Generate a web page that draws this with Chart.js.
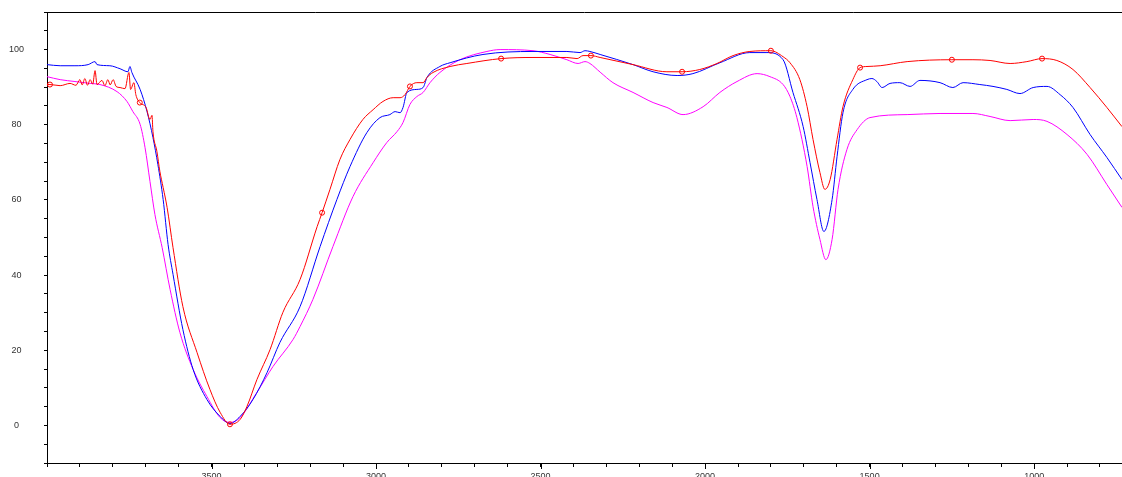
<!DOCTYPE html>
<html>
<head>
<meta charset="utf-8">
<script src="https://cdn.jsdelivr.net/npm/chart.js@4/dist/chart.umd.min.js"></script>
<style>
  html, body { margin: 0; padding: 0; background: #fff; overflow: hidden; }
  #wrap { width: 1122px; height: 484px; }
</style>
</head>
<body>
<div id="wrap"><canvas id="ir" width="1122" height="484"></canvas></div>
<script>
// IR transmittance spectra: wavenumber (cm-1) and %T for three samples
const redWavenumber = [4000,3991,3960,3930,3912,3900,3893,3885,3877,3869,3861,3854,3848,3833,3824,3815,3808,3799,3790,3778,3763,3751,3746,3736,3730,3718,3699,3687,3681,3678,3666,3657,3647,3635,3617,3587,3544,3505,3474,3444,3413,3392,3362,3322,3283,3231,3179,3164,3140,3110,3079,3040,3009,2979,2948,2927,2912,2897,2876,2857,2845,2827,2775,2724,2620,2523,2420,2389,2371,2347,2319,2219,2116,2070,2016,1964,1915,1864,1800,1763,1742,1712,1690,1672,1651,1636,1620,1599,1581,1551,1529,1508,1468,1386,1250,1186,1134,1073,1022,976,931,882,830,779,733];
const redTransmittance = [90.7,90.7,90.4,91.0,90.5,92.0,90.6,92.3,90.5,92.0,90.8,94.4,90.7,91.8,90.4,92.0,90.6,92.0,90.2,89.9,89.6,93.9,89.4,91.2,88.0,85.9,84.6,81.4,82.5,78.2,72.9,67.6,63.3,58.0,47.3,31.6,19.4,9.6,3.5,0.3,1.6,5.1,12.2,20.2,30.1,38.8,52.9,56.6,62.8,70.7,76.1,81.4,84.0,86.2,87.2,87.2,88.0,90.2,91.2,91.2,92.6,93.9,95.5,96.3,97.6,97.9,97.9,97.6,98.4,98.4,97.9,96.0,94.1,94.1,94.7,96.3,98.4,99.5,99.7,98.1,96.5,92.0,84.8,76.1,67.3,62.8,65.4,76.1,84.8,92.0,95.2,95.5,95.7,96.8,97.3,97.3,97.1,96.3,96.8,97.6,97.1,94.7,89.9,84.6,79.5];
// wavenumbers where the red trace carries a circle symbol
const redMarkerWavenumbers = [3991,3718,3444,3164,2897,2620,2347,2070,1800,1529,1250,976];

const blueWavenumber = [4000,3960,3915,3875,3854,3848,3809,3778,3754,3748,3742,3717,3696,3678,3663,3647,3632,3617,3587,3556,3514,3474,3444,3413,3374,3331,3292,3231,3170,3119,3079,3028,2988,2958,2942,2927,2918,2906,2876,2857,2845,2806,2775,2675,2523,2420,2380,2365,2350,2319,2219,2158,2085,2037,1955,1864,1812,1763,1733,1702,1681,1660,1639,1614,1599,1581,1551,1508,1493,1478,1462,1438,1408,1377,1347,1286,1247,1216,1165,1125,1083,1043,1003,961,921,882,830,779,733];
const blueTransmittance = [96.0,95.7,95.7,96.0,96.8,96.0,95.7,94.9,94.1,95.5,93.9,89.4,83.5,76.6,69.4,60.1,48.1,40.2,25.5,14.9,6.9,2.4,0.5,2.4,6.9,14.1,22.1,31.6,47.6,60.1,68.9,77.9,81.9,82.7,83.5,83.2,84.6,88.6,89.4,89.9,92.6,95.5,96.5,98.7,99.5,99.5,99.2,99.7,99.5,98.7,96.0,94.1,93.1,93.6,96.5,99.2,99.2,97.3,88.6,79.5,69.9,60.1,51.6,60.1,71.5,83.2,89.4,92.0,92.3,91.5,89.9,91.0,91.2,90.2,91.8,91.2,89.9,91.2,90.7,90.2,89.4,88.3,89.9,90.2,88.0,84.6,77.4,71.3,65.4];

const magentaWavenumber = [4000,3960,3915,3869,3839,3787,3757,3739,3717,3702,3687,3672,3650,3626,3596,3556,3514,3474,3444,3413,3362,3313,3252,3231,3192,3131,3070,3009,2967,2936,2918,2897,2876,2857,2836,2806,2745,2663,2623,2523,2471,2420,2386,2365,2350,2319,2280,2219,2158,2116,2067,2006,1955,1903,1842,1803,1763,1742,1721,1690,1672,1651,1633,1614,1596,1569,1538,1499,1386,1286,1186,1134,1073,1003,961,900,839,779,733];
const magentaTransmittance = [92.8,92.0,91.5,91.0,90.7,88.8,86.2,83.5,80.1,73.9,64.9,56.1,47.3,36.2,24.7,14.9,7.7,2.1,0.8,2.1,8.8,15.7,22.9,26.3,33.5,47.6,60.9,69.9,75.3,78.2,80.6,85.4,87.5,88.6,91.2,93.9,97.3,99.5,100.0,99.7,98.7,97.3,96.3,96.8,96.3,94.0,91.2,88.6,85.9,84.6,82.7,84.8,88.6,91.5,93.6,92.8,90.7,87.5,81.9,68.9,58.2,49.5,44.1,49.5,62.8,73.4,78.7,81.9,82.7,83.0,83.0,82.2,81.1,81.4,80.9,77.4,72.1,64.1,58.0];

// axis range and labelled ticks
const xRange = [733, 4000];
const yRange = [-10, 110];
const xLabelValues = [3500, 3000, 2500, 2000, 1500, 1000];
const yLabelValues = [0, 20, 40, 60, 80, 100];

const toPoints = (xs, ys) => xs.map((x, i) => ({ x: x, y: ys[i] }));
const markerSet = new Set(redMarkerWavenumbers);

const tickFont = { family: 'Arial, "Liberation Sans", sans-serif', size: 9 };

// closes the frame along the top and lengthens the labelled x ticks
const frameExtras = {
  id: 'frameExtras',
  afterDraw(chart) {
    const { ctx, chartArea } = chart;
    const xScale = chart.scales.x;
    const y = Math.round(chartArea.top) + 0.5;
    ctx.save();
    ctx.strokeStyle = '#000';
    ctx.lineWidth = 1;
    ctx.beginPath();
    ctx.moveTo(chartArea.left, y);
    ctx.lineTo(chartArea.right, y);
    xLabelValues.forEach(v => {
      const px = Math.round(xScale.getPixelForValue(v)) + 0.5;
      ctx.moveTo(px, chartArea.bottom);
      ctx.lineTo(px, chartArea.bottom + 6);
    });
    ctx.stroke();
    ctx.restore();
  }
};

const lineStyle = { borderWidth: 1, pointRadius: 0, cubicInterpolationMode: 'monotone' };

new Chart(document.getElementById('ir'), {
  type: 'line',
  data: {
    datasets: [
      Object.assign({}, lineStyle, {
        label: 'red',
        data: toPoints(redWavenumber, redTransmittance),
        borderColor: '#ff0000',
        pointRadius: ctx => (ctx.raw && markerSet.has(ctx.raw.x)) ? 2.5 : 0,
        pointStyle: 'circle',
        pointBorderColor: '#ff0000',
        pointBackgroundColor: 'rgba(255,255,255,0)',
        pointBorderWidth: 1,
        pointHoverRadius: 0
      }),
      Object.assign({}, lineStyle, {
        label: 'blue',
        data: toPoints(blueWavenumber, blueTransmittance),
        borderColor: '#0000ff'
      }),
      Object.assign({}, lineStyle, {
        label: 'magenta',
        data: toPoints(magentaWavenumber, magentaTransmittance),
        borderColor: '#ff00ff'
      })
    ]
  },
  options: {
    responsive: false,
    devicePixelRatio: 1,
    animation: false,
    events: [],
    layout: { padding: { top: 12, right: 0, bottom: 0, left: 0 } },
    plugins: { legend: { display: false }, tooltip: { enabled: false } },
    scales: {
      x: {
        type: 'linear',
        reverse: true,
        min: xRange[0],
        max: xRange[1],
        afterFit: s => { s.height = 21; s.paddingLeft = 0; s.paddingRight = 0; },
        ticks: {
          stepSize: 100,
          includeBounds: false,
          autoSkip: false,
          maxRotation: 0,
          padding: 4,
          color: '#333',
          font: tickFont,
          callback: v => xLabelValues.includes(v) ? String(v) : ''
        },
        grid: { drawOnChartArea: false, drawTicks: true, tickLength: 4, color: '#000' },
        border: { display: true, color: '#000', width: 1 }
      },
      y: {
        min: yRange[0],
        max: yRange[1],
        afterFit: s => { s.width = 47; s.paddingTop = 0; s.paddingBottom = 0; },
        ticks: {
          stepSize: 5,
          autoSkip: false,
          crossAlign: 'center',
          padding: 20,
          color: '#333',
          font: tickFont,
          callback: v => yLabelValues.includes(v) ? String(v) : ''
        },
        grid: { drawOnChartArea: false, drawTicks: true, tickLength: 3, color: '#000' },
        border: { display: true, color: '#000', width: 1 }
      }
    }
  },
  plugins: [frameExtras]
});
</script>
</body>
</html>
